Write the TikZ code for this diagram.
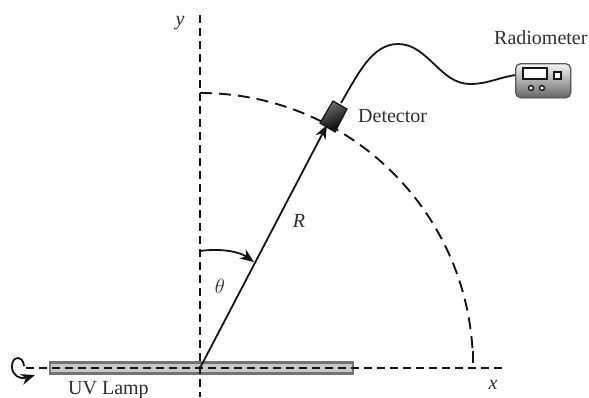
\documentclass[tikz,border=0pt]{standalone}
\usepackage{fontspec}
\setmainfont{Liberation Serif}
\usetikzlibrary{arrows.meta,shadows}
\definecolor{ink}{gray}{0.08}
\tikzset{
  axisline/.style={draw=ink,line width=1.9pt,dash pattern=on 7.5pt off 5.5pt},
  arcline/.style={draw=ink,line width=1.9pt,dash pattern=on 12pt off 7pt},
  solidline/.style={draw=ink,line width=1.8pt},
  tip/.style={-{Stealth[length=14pt,width=11pt]}},
  label/.style={inner sep=0pt,text=black!82,font=\fontsize{20}{22}\selectfont},
  mathlabel/.style={label,font=\fontsize{20}{22}\selectfont\itshape}
}
\begin{document}
\begin{tikzpicture}[x=1pt,y=-1pt]
\useasboundingbox (0,0) rectangle (589,397);
% lamp
\node[draw=black!55,line width=2.4pt,fill=black!22,minimum width=303pt,minimum height=11pt,inner sep=0pt,anchor=west] (lamp) at (49,368) {};
% axes
\coordinate (O) at (200,368);
\coordinate (ytop) at (200,15);
\coordinate (ybot) at (200,397);
\coordinate (xend) at (505,368);
\coordinate (lstart) at (26,368);
\draw[axisline] (ytop) -- (ybot);
\draw[axisline] (lstart) -- (xend);
% arc
\draw[arcline] (200,93) arc[start angle=-90,end angle=-3,radius=273];
\coordinate (e1) at (473,351);
\coordinate (e2) at (473,363);
\draw[draw=ink,line width=1.9pt] (e1) -- (e2);
% radius
\coordinate (tipR) at (327,125);
\draw[solidline,tip] (O) -- (tipR);
% detector
\coordinate (d1) at (333,101);
\coordinate (d2) at (347,109);
\coordinate (d3) at (335,132);
\coordinate (d4) at (320,123);
\path[top color=black!55,bottom color=black,shading angle=25] (d1)--(d2)--(d3)--(d4)--cycle;
\draw[ink,line width=1.2pt] (d1)--(d2)--(d3)--(d4)--cycle;
% cable
\coordinate (cstart) at (341,103);
\coordinate (cend) at (516,75);
\draw[solidline] (cstart) .. controls (358,74) and (372,44) .. (398,44)
  .. controls (428,44) and (440,84) .. (470,84)
  .. controls (488,84) and (500,77) .. (cend);
% radiometer
\node[draw=black!65,line width=1.3pt,rounded corners=5pt,top color=black!4,bottom color=black!60,minimum width=55pt,minimum height=34pt,inner sep=0pt,anchor=north west,drop shadow={shadow xshift=1pt,shadow yshift=-1.5pt,opacity=.25}] (meter) at (515,63) {};
\draw[ink,line width=1.4pt,fill=white] (523,68) rectangle (547,79);
\draw[ink,line width=1.4pt,fill=white] (554,72) rectangle (561,79);
\draw[ink,line width=1.4pt,fill=white] (531,88) circle (2.4pt);
\draw[ink,line width=1.4pt,fill=white] (542,88) circle (2.4pt);
% theta arc
\coordinate (a1) at (200,251);
\coordinate (a2) at (254,262);
\draw[solidline,tip] (a1) .. controls (222,248) and (240,252) .. (a2);
% rotation arrow
\coordinate (r1) at (24,366);
\coordinate (r2) at (35,375);
\draw[solidline,tip] (r1) .. controls (23,359) and (20,358) .. (18,358) .. controls (13,358) and (12,363) .. (12,367) .. controls (12,375) and (20,380) .. (r2);
% labels
\node[label,anchor=base west] (t1) at (494,44) {Radiometer};
\node[label,anchor=base west] (t2) at (358,122) {Detector};
\node[label,anchor=base west] (t3) at (68,394) {UV Lamp};
\node[mathlabel] (t4) at (180,23) {y};
\node[mathlabel] (t5) at (299,221) {R};
\node[mathlabel] (t6) at (220,286) {$\theta$};
\node[mathlabel] (t7) at (493,385) {x};
\end{tikzpicture}
\end{document}
